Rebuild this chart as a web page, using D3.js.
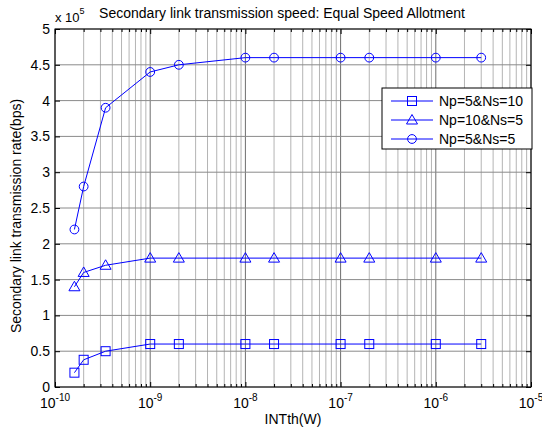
<!DOCTYPE html>
<html>
<head>
<meta charset="utf-8">
<script src="https://cdn.jsdelivr.net/npm/d3@7"></script>
<style>
	body { margin: 0; background: #fff; }
	svg { font-family: 'Liberation Sans', Arial, sans-serif; }
</style>
</head>
<body>
<svg id="chart" width="542" height="430"></svg>
<script>
const INT_TH = [1.6e-10, 2e-10, 3.4e-10, 1e-9, 2e-9, 1e-8, 2e-8, 1e-7, 2e-7, 1e-6, 3e-6];
const SERIES_NAMES = ['Np=5&Ns=10', 'Np=10&Ns=5', 'Np=5&Ns=5'];
const MARKERS = ['square', 'triangle', 'circle'];
// values in units of 1e5 bps
const RATE_NP5_NS10 = [0.2, 0.38, 0.5, 0.6, 0.6, 0.6, 0.6, 0.6, 0.6, 0.6, 0.6];
const RATE_NP10_NS5 = [1.4, 1.6, 1.7, 1.8, 1.8, 1.8, 1.8, 1.8, 1.8, 1.8, 1.8];
const RATE_NP5_NS5 = [2.2, 2.8, 3.9, 4.4, 4.5, 4.6, 4.6, 4.6, 4.6, 4.6, 4.6];
const Y_TICKS = [0, 0.5, 1, 1.5, 2, 2.5, 3, 3.5, 4, 4.5, 5];
const X_DECADES = [-10, -9, -8, -7, -6, -5];

const BLUE = '#0000ff';
const margin = { top: 29, right: 11, bottom: 43, left: 55 };
const width = 542;
const height = 430;
const iw = width - margin.left - margin.right;
const ih = height - margin.top - margin.bottom;

const series = [RATE_NP5_NS10, RATE_NP10_NS5, RATE_NP5_NS5].map((vals, i) => ({
	name: SERIES_NAMES[i],
	marker: MARKERS[i],
	points: vals.map((v, j) => ({ x: INT_TH[j], y: v }))
}));

const x = d3.scaleLog().domain([1e-10, 1e-5]).range([0, iw]);
const y = d3.scaleLinear().domain([0, 5]).range([ih, 0]);

const $svg = d3.select('#chart');
const $g = $svg.append('g').attr('transform', `translate(${margin.left},${margin.top})`);

// minor log positions
const minor = [];
X_DECADES.slice(0, -1).forEach(e => {
	for (let k = 2; k <= 9; k++) minor.push(k * Math.pow(10, e));
});
const major = X_DECADES.map(e => Math.pow(10, e));

// grid
$g.append('g')
	.selectAll('line')
	.data(minor)
	.join('line')
	.attr('x1', d => x(d))
	.attr('x2', d => x(d))
	.attr('y1', 0)
	.attr('y2', ih)
	.attr('stroke', '#b4b4b4')
	.attr('stroke-width', 1);

$g.append('g')
	.selectAll('line')
	.data(major)
	.join('line')
	.attr('x1', d => x(d))
	.attr('x2', d => x(d))
	.attr('y1', 0)
	.attr('y2', ih)
	.attr('stroke', '#6e6e6e')
	.attr('stroke-width', 1);

$g.append('g')
	.selectAll('line')
	.data(Y_TICKS)
	.join('line')
	.attr('x1', 0)
	.attr('x2', iw)
	.attr('y1', d => y(d))
	.attr('y2', d => y(d))
	.attr('stroke', '#8a8a8a')
	.attr('stroke-width', 1);

// axes with inward ticks
const yAxis = d3.axisLeft(y).tickValues(Y_TICKS).tickSize(-5).tickPadding(5).tickFormat(d3.format('~g'));
const $yAxis = $g.append('g').call(yAxis);
$yAxis.select('.domain').remove();
$yAxis.selectAll('text').attr('font-size', 14).attr('fill', '#000').attr('font-family', null);
$yAxis.selectAll('line').attr('stroke', '#000');

const $yRight = $g.append('g').attr('transform', `translate(${iw},0)`)
	.call(d3.axisRight(y).tickValues(Y_TICKS).tickSize(-5).tickFormat(''));
$yRight.select('.domain').remove();

const $xAxis = $g.append('g').attr('transform', `translate(0,${ih})`)
	.call(d3.axisBottom(x).tickValues(major).tickSize(-5).tickFormat(''));
$xAxis.select('.domain').remove();
$g.append('g').attr('transform', `translate(0,${ih})`)
	.call(d3.axisBottom(x).tickValues(minor).tickSize(-3).tickFormat(''))
	.select('.domain').remove();
$g.append('g')
	.call(d3.axisTop(x).tickValues(major).tickSize(-5).tickFormat(''))
	.select('.domain').remove();
$g.append('g')
	.call(d3.axisTop(x).tickValues(minor).tickSize(-3).tickFormat(''))
	.select('.domain').remove();

// x tick labels as 10^e
const $xl = $g.append('g')
	.selectAll('text')
	.data(X_DECADES)
	.join('text')
	.attr('x', d => x(Math.pow(10, d)))
	.attr('y', ih + 21)
	.attr('text-anchor', 'middle')
	.attr('font-size', 14)
	.attr('fill', '#000');
$xl.append('tspan').text('10');
$xl.append('tspan').attr('dy', -7).attr('font-size', 10).text(d => d);

// frame
$g.append('rect')
	.attr('width', iw)
	.attr('height', ih)
	.attr('fill', 'none')
	.attr('stroke', '#000')
	.attr('stroke-width', 1);

// series
const line = d3.line().x(d => x(d.x)).y(d => y(d.y));

function drawMarker($sel, type) {
	if (type === 'square') {
		$sel.append('rect').attr('x', -4.5).attr('y', -4.5).attr('width', 9).attr('height', 9);
	} else if (type === 'triangle') {
		$sel.append('path').attr('d', 'M0,-5.5L5.5,4L-5.5,4Z');
	} else {
		$sel.append('circle').attr('r', 4.4);
	}
}

series.forEach(s => {
	$g.append('path')
		.datum(s.points)
		.attr('d', line)
		.attr('fill', 'none')
		.attr('stroke', BLUE)
		.attr('stroke-width', 1);
	$g.append('g')
		.selectAll('g')
		.data(s.points)
		.join('g')
		.attr('transform', d => `translate(${x(d.x)},${y(d.y)})`)
		.each(function () { drawMarker(d3.select(this), s.marker); })
		.selectAll('*')
		.attr('fill', 'none')
		.attr('stroke', BLUE)
		.attr('stroke-width', 1);
});

// legend
const $legend = $g.append('g').attr('transform', `translate(${iw - 149},${59})`);
$legend.append('rect')
	.attr('width', 150)
	.attr('height', 61)
	.attr('fill', '#fff')
	.attr('stroke', '#000');
const $item = $legend.selectAll('.item')
	.data(series)
	.join('g')
	.attr('transform', (d, i) => `translate(0,${13 + i * 19})`);
$item.append('line')
	.attr('x1', 9).attr('x2', 51)
	.attr('stroke', BLUE);
$item.append('g')
	.attr('transform', 'translate(30,0)')
	.each(function (d) { drawMarker(d3.select(this), d.marker); })
	.selectAll('*')
	.attr('fill', 'none')
	.attr('stroke', BLUE);
$item.append('text')
	.attr('x', 57)
	.attr('y', 5)
	.attr('font-size', 14)
	.text(d => d.name);

// titles
$svg.append('text')
	.attr('x', 282)
	.attr('y', 18)
	.attr('text-anchor', 'middle')
	.attr('font-size', 14)
	.text('Secondary link transmission speed: Equal Speed Allotment');

const $exp = $svg.append('text')
	.attr('x', 55)
	.attr('y', 22)
	.attr('font-size', 13);
$exp.append('tspan').text('x 10');
$exp.append('tspan').attr('dy', -8).attr('font-size', 9).text('5');

$svg.append('text')
	.attr('x', 293)
	.attr('y', 424)
	.attr('text-anchor', 'middle')
	.attr('font-size', 14)
	.text('INTth(W)');

$svg.append('text')
	.attr('transform', 'translate(21,216) rotate(-90)')
	.attr('text-anchor', 'middle')
	.attr('font-size', 14)
	.text('Secondary link transmission rate(bps)');
</script>
</body>
</html>
